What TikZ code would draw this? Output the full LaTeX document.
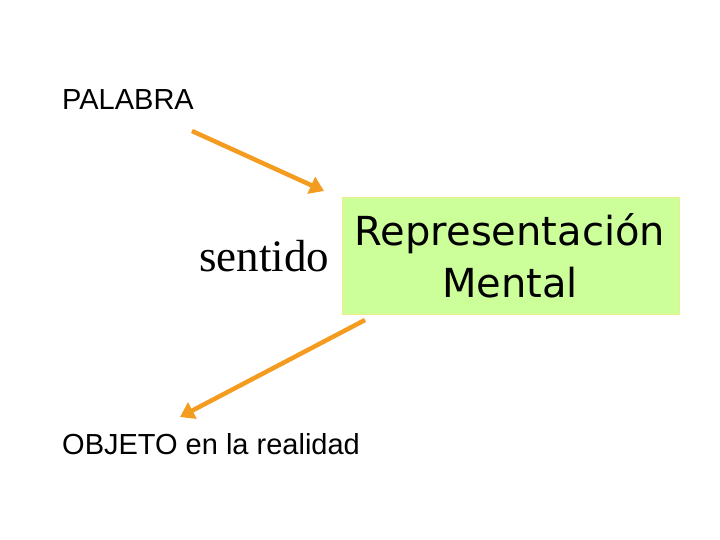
\documentclass[tikz,border=0pt]{standalone}
\usepackage{fontspec}
\setmainfont{Liberation Serif}
\newfontfamily\arial{Liberation Sans}
\newfontfamily\rmfont{DejaVu Sans}
\usetikzlibrary{arrows.meta}
\definecolor{boxfill}{HTML}{CCFF99}
\definecolor{boxline}{HTML}{EEEE88}
\definecolor{arr}{HTML}{F39C1F}
\tikzset{lbl/.style={inner sep=0pt,anchor=west},
 conn/.style={draw=arr,line width=4.5pt,-{Triangle[length=14pt,width=18pt]}}}
\begin{document}
\begin{tikzpicture}[x=1pt,y=-1pt]
\useasboundingbox (0,0) rectangle (720,540);
\node[lbl,font=\arial\fontsize{29}{34}\selectfont] (pal) at (62,100) {PALABRA};
\node[lbl,font=\arial\fontsize{29}{34}\selectfont] (obj) at (62,444) {OBJETO en la realidad};
\node[draw=boxline,fill=boxfill,minimum width=337pt,minimum height=117pt,anchor=north west,inner sep=0pt] (rep) at (342,197) {};
\node[font=\rmfont\fontsize{40}{52}\selectfont,align=center,inner sep=0pt] (reptxt) at (510,256) {Representación\\Mental};
\node[lbl,font=\fontsize{45}{50}\selectfont] (sen) at (199,256) {sentido};
\coordinate (a1s) at (192,131);
\coordinate (a1e) at (324,191);
\coordinate (a2s) at (365,320);
\coordinate (a2e) at (180,417);
\draw[conn] (a1s) -- (a1e);
\draw[conn] (a2s) -- (a2e);
\end{tikzpicture}
\end{document}
